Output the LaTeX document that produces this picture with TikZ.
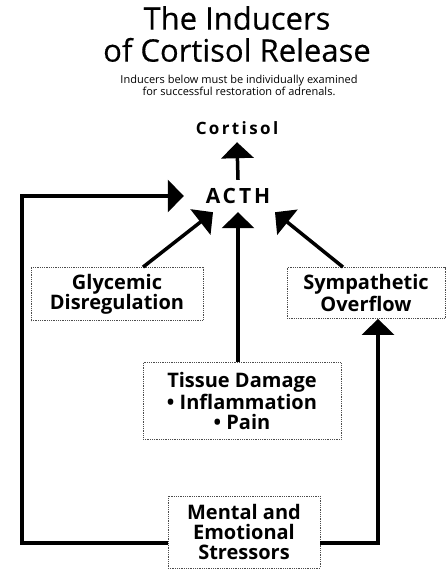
\documentclass[tikz,border=0pt]{standalone}
\usepackage{fontspec}
\setmainfont{Open Sans}
\usetikzlibrary{arrows.meta,calc}
\newlength{\du}
\setlength{\du}{1pt}
\tikzset{
  arr/.style={line width=3.5\du,-{Triangle[width=32pt,length=16pt]}},
  inducer/.style={draw=black!70,densely dotted,line width=0.8\du,inner sep=0pt,align=center,
    font=\fontsize{20}{20}\selectfont\bfseries},
  spaced/.style={inner sep=0pt,font=\fontsize{#1}{#1}\selectfont\bfseries\addfontfeature{LetterSpace=14}}
}
\begin{document}
\begin{tikzpicture}
\pgftransformxscale{1.000000}
\pgftransformyscale{-1.000000}
\useasboundingbox (0\du,0\du) rectangle (446\du,569\du);
% setfont left to latex
\node[align=center,font=\fontsize{31}{32}\selectfont\addfontfeature{FakeBold=0.4}] (title) at (237\du,34\du){The Inducers\\of Cortisol Release};
\node[align=center,font=\fontsize{11}{12}\selectfont] (sub) at (239\du,85\du){Inducers below must be individually examined\\for successful restoration of adrenals.};
\node[spaced=17,minimum height=28\du] (cortisol) at (237\du,128\du){Cortisol};
\node[spaced=21,minimum width=108\du,minimum height=32\du] (acth) at (238\du,196\du){ACTH};
\node[inducer,minimum width=172\du,minimum height=53\du] (glyc) at (117\du,294\du){Glycemic\\Disregulation};
\node[inducer,minimum width=158\du,minimum height=51\du] (symp) at (366\du,293\du){Sympathetic\\Overflow};
\node[inducer,minimum width=198\du,minimum height=77\du] (tissue) at (242\du,401\du){Tissue Damage\\• Inflammation\\• Pain};
\node[inducer,minimum width=152\du,minimum height=72\du] (mental) at (244\du,532\du){Mental and\\Emotional\\Stressors};
\coordinate (loopL) at (22\du,543\du);
\draw[arr] (acth.north) -- (cortisol.south);
\draw[arr] ([xshift=26\du]glyc.north) -- ([xshift=-25\du]acth.south);
\draw[arr] (tissue.north -| acth.south) -- (acth.south);
\draw[arr] ([xshift=-23\du]symp.north) -- ([xshift=37\du]acth.south);
\draw[arr] (mental.west |- loopL) -- (loopL) |- (acth.west);
\draw[arr] (mental.east |- loopL) -| ([xshift=12\du]symp.south);
\end{tikzpicture}
\end{document}
